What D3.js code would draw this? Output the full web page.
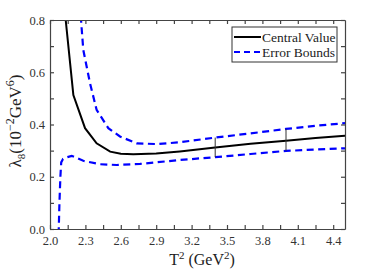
<!DOCTYPE html>
<html>
<head>
<meta charset="utf-8">
<script src="https://cdn.jsdelivr.net/npm/d3@7"></script>
<style>
  body { margin: 0; background: #fff; }
  svg text { font-family: 'Liberation Serif', 'Times New Roman', 'DejaVu Serif', serif !important; }
</style>
</head>
<body>
<div id="container"></div>
<script>
// central value curve (T^2, lambda8)
const centralT = [2.12, 2.133, 2.198, 2.297, 2.395, 2.51, 2.6, 2.706, 2.9, 3.1, 3.4, 3.7, 4.0, 4.25, 4.5];
const centralV = [0.88, 0.8, 0.513, 0.386, 0.328, 0.296, 0.288, 0.286, 0.289, 0.297, 0.312, 0.326, 0.338, 0.348, 0.357];

// upper error bound
const upperT = [2.25, 2.263, 2.282, 2.339, 2.395, 2.494, 2.593, 2.735, 2.905, 3.1, 3.4, 3.7, 4.0, 4.25, 4.5];
const upperV = [0.86, 0.8, 0.686, 0.558, 0.456, 0.386, 0.354, 0.328, 0.325, 0.332, 0.35, 0.366, 0.383, 0.395, 0.405];

// lower error bound
const lowerT = [2.073, 2.08, 2.088, 2.095, 2.11, 2.14, 2.184, 2.282, 2.424, 2.565, 2.763, 3.1, 3.4, 3.7, 4.0, 4.25, 4.5];
const lowerV = [-0.02, 0.1, 0.2, 0.255, 0.268, 0.274, 0.28, 0.261, 0.248, 0.245, 0.249, 0.264, 0.275, 0.287, 0.299, 0.304, 0.309];

// error bars drawn at two points
const barT = [3.4, 4.0];
const barLo = [0.275, 0.299];
const barHi = [0.35, 0.383];

const xTicks = [2.0, 2.3, 2.6, 2.9, 3.2, 3.5, 3.8, 4.1, 4.4];
const yTicks = [0.0, 0.2, 0.4, 0.6, 0.8];

const W = 382, H = 273;
const m = {left: 50, right: 37, top: 20, bottom: 44};
const FONT = "'Liberation Serif', 'Times New Roman', serif";

const svg = d3.select("#container").append("svg")
  .attr("width", W).attr("height", H);

const x = d3.scaleLinear().domain([2.0, 4.5]).range([m.left, W - m.right]);
const y = d3.scaleLinear().domain([0, 0.8]).range([H - m.bottom, m.top]);

svg.append("clipPath").attr("id", "clip")
  .append("rect")
  .attr("x", m.left).attr("y", m.top)
  .attr("width", W - m.left - m.right).attr("height", H - m.top - m.bottom);

const line = d3.line().x(d => x(d[0])).y(d => y(d[1]));
const g = svg.append("g").attr("clip-path", "url(#clip)");

g.append("path").datum(d3.zip(upperT, upperV))
  .attr("d", line).attr("fill", "none")
  .attr("stroke", "#0000ff").attr("stroke-width", 2.2).attr("stroke-dasharray", "7,4.5");
g.append("path").datum(d3.zip(lowerT, lowerV))
  .attr("d", line).attr("fill", "none")
  .attr("stroke", "#0000ff").attr("stroke-width", 2.2).attr("stroke-dasharray", "7,4.5");
g.append("path").datum(d3.zip(centralT, centralV))
  .attr("d", line).attr("fill", "none")
  .attr("stroke", "#000").attr("stroke-width", 2);

g.selectAll("line.err").data(barT).enter().append("line")
  .attr("class", "err")
  .attr("x1", d => x(d)).attr("x2", d => x(d))
  .attr("y1", (d, i) => y(barLo[i])).attr("y2", (d, i) => y(barHi[i]))
  .attr("stroke", "#333").attr("stroke-width", 1);

// axes with inward ticks on all four sides
const minorX = d3.range(0, 17).map(i => 2.0 + i * 0.15);
const minorY = d3.range(0, 9).map(i => i * 0.1);
const axCol = "#444";

function inward(axis) {
  return axis.tickSizeInner(-4).tickSizeOuter(0);
}

const axBottom = svg.append("g").attr("transform", `translate(0,${H - m.bottom})`)
  .call(inward(d3.axisBottom(x)).tickValues(minorX)
    .tickFormat(d => xTicks.some(t => Math.abs(t - d) < 1e-6) ? d3.format(".1f")(d) : ""));
const axTop = svg.append("g").attr("transform", `translate(0,${m.top})`)
  .call(inward(d3.axisTop(x)).tickValues(minorX).tickFormat(""));
const axLeft = svg.append("g").attr("transform", `translate(${m.left},0)`)
  .call(inward(d3.axisLeft(y)).tickValues(minorY)
    .tickFormat(d => yTicks.some(t => Math.abs(t - d) < 1e-6) ? d3.format(".1f")(d) : ""));
const axRight = svg.append("g").attr("transform", `translate(${W - m.right},0)`)
  .call(inward(d3.axisRight(y)).tickValues(minorY).tickFormat(""));

[axBottom, axTop, axLeft, axRight].forEach(a => {
  a.attr("font-family", FONT);
  a.selectAll("path,line").attr("stroke", axCol).attr("stroke-width", 1.2);
  a.selectAll("text").attr("fill", "#333").attr("font-size", 12.5);
});
axBottom.selectAll("text").attr("dy", "1.05em");
axLeft.selectAll("text").attr("x", -5);

// axis titles
const xl = svg.append("text").attr("x", 202).attr("y", 265)
  .attr("font-family", FONT)
  .attr("text-anchor", "middle").attr("font-size", 16).attr("fill", "#222");
xl.append("tspan").text("T");
xl.append("tspan").attr("dy", -6).attr("font-size", 11).text("2");
xl.append("tspan").attr("dy", 6).text(" (GeV");
xl.append("tspan").attr("dy", -6).attr("font-size", 11).text("2");
xl.append("tspan").attr("dy", 6).text(")");

const yl = svg.append("text")
  .attr("transform", "translate(21,121) rotate(-90)")
  .attr("font-family", FONT)
  .attr("text-anchor", "middle").attr("font-size", 17).attr("fill", "#222");
yl.append("tspan").text("λ");
yl.append("tspan").attr("dy", 4).attr("font-size", 11).text("8");
yl.append("tspan").attr("dy", -4).text("(10");
yl.append("tspan").attr("dy", -7).attr("font-size", 12).text("−2");
yl.append("tspan").attr("dy", 7).text("GeV");
yl.append("tspan").attr("dy", -7).attr("font-size", 12).text("6");
yl.append("tspan").attr("dy", 7).text(")");

// legend
const lg = svg.append("g").attr("transform", "translate(232,27)").attr("font-family", FONT);
lg.append("rect").attr("width", 105).attr("height", 35)
  .attr("fill", "#fff").attr("stroke", "#333").attr("stroke-width", 1);
const items = [
  {name: "Central Value", color: "#000", dash: null},
  {name: "Error Bounds", color: "#0000ff", dash: "6,4"}
];
items.forEach((it, i) => {
  const yy = 10 + i * 15;
  lg.append("line").attr("x1", 2).attr("x2", 29).attr("y1", yy).attr("y2", yy)
    .attr("stroke", it.color).attr("stroke-width", 2)
    .attr("stroke-dasharray", it.dash);
  lg.append("text").attr("x", 30).attr("y", yy + 4.5)
    .attr("font-size", 13.5).attr("fill", "#222").text(it.name);
});
</script>
</body>
</html>
